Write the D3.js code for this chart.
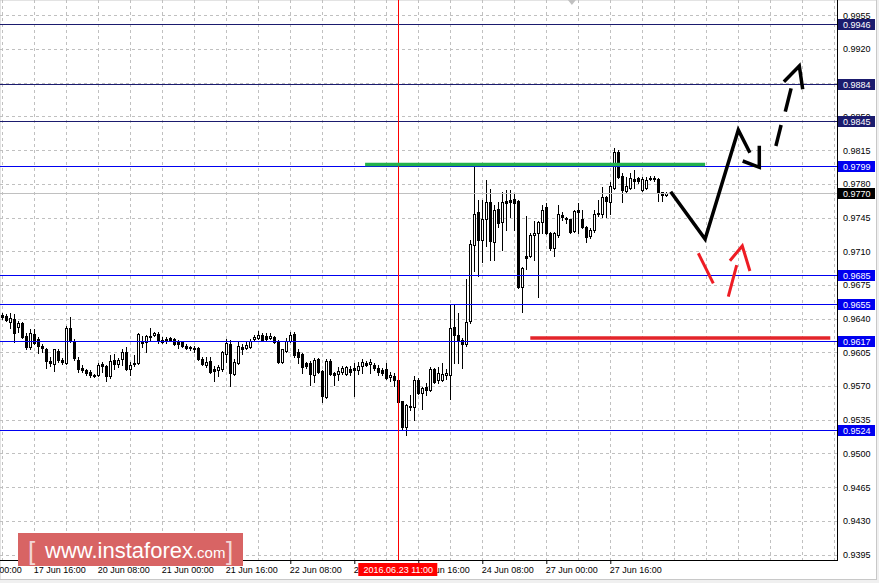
<!DOCTYPE html>
<meta charset="utf-8">
<style>
body { margin: 0; background: #f0f0f0; }
svg text { font-family: "Liberation Sans", Arial, sans-serif; }
</style>
<body>
<script src="https://d3js.org/d3.v7.min.js"></script>
<script>
var width = 879, height = 583;
var plotRight = 837, plotBottom = 560;

// H1 bars, bar 0 = 17 Jun 08:00 (weekend skipped)
var opens = [
0.9644,0.9643,0.9637,0.9640,0.9631,0.9635,0.9622,0.9611,0.9624,0.9619,
0.9612,0.9609,0.9596,0.9593,0.9606,0.9597,0.9594,0.9630,0.9617,0.9597,
0.9589,0.9587,0.9585,0.9582,0.9581,0.9593,0.9591,0.9580,0.9597,0.9593,
0.9598,0.9605,0.9588,0.9594,0.9594,0.9617,0.9616,0.9622,0.9623,0.9624,
0.9618,0.9619,0.9620,0.9619,0.9617,0.9616,0.9612,0.9611,0.9610,0.9610,
0.9598,0.9592,0.9596,0.9588,0.9587,0.9588,0.9603,0.9614,0.9583,0.9594,
0.9611,0.9610,0.9611,0.9619,0.9620,0.9623,0.9622,0.9620,0.9621,0.9616,
0.9595,0.9606,0.9617,0.9624,0.9605,0.9603,0.9594,0.9594,0.9582,0.9598,
0.9586,0.9559,0.9596,0.9584,0.9583,0.9585,0.9583,0.9588,0.9589,0.9587,
0.9591,0.9594,0.9593,0.9592,0.9589,0.9587,0.9588,0.9579,0.9580,0.9576,
0.9554,0.9528,0.9549,0.9548,0.9576,0.9563,0.9569,0.9566,0.9588,0.9576,
0.9576,0.9581,0.9582,0.9631,0.9623,0.9618,0.9614,0.9638,0.9716,0.9751,
0.9722,0.9744,0.9761,0.9720,0.9754,0.9740,0.9762,0.9763,0.9764,0.9762,
0.9673,0.9705,0.9705,0.9727,0.9729,0.9740,0.9756,0.9729,0.9713,0.9727,
0.9748,0.9745,0.9743,0.9731,0.9753,0.9743,0.9735,0.9726,0.9732,0.9749,
0.9749,0.9766,0.9761,0.9776,0.9813,0.9788,0.9773,0.9776,0.9785,0.9786,
0.9774,0.9776,0.9786,0.9786,0.9785,0.9771,0.9768];
var highs = [
0.9646,0.9645,0.9646,0.9645,0.9638,0.9637,0.9625,0.9629,0.9629,0.9621,
0.9614,0.9610,0.9600,0.9609,0.9608,0.9599,0.9632,0.9642,0.9619,0.9600,
0.9592,0.9588,0.9587,0.9583,0.9594,0.9595,0.9592,0.9602,0.9603,0.9599,
0.9608,0.9611,0.9595,0.9602,0.9625,0.9622,0.9623,0.9630,0.9626,0.9626,
0.9621,0.9621,0.9621,0.9620,0.9618,0.9617,0.9614,0.9612,0.9612,0.9611,
0.9600,0.9600,0.9600,0.9591,0.9592,0.9606,0.9619,0.9618,0.9598,0.9616,
0.9614,0.9616,0.9619,0.9623,0.9627,0.9625,0.9625,0.9625,0.9622,0.9618,
0.9609,0.9620,0.9626,0.9626,0.9608,0.9604,0.9595,0.9596,0.9599,0.9599,
0.9587,0.9598,0.9598,0.9585,0.9590,0.9591,0.9591,0.9591,0.9594,0.9595,
0.9598,0.9596,0.9598,0.9594,0.9592,0.9589,0.9594,0.9585,0.9584,0.9577,
0.9555,0.9551,0.9561,0.9580,0.9578,0.9569,0.9573,0.9590,0.9589,0.9590,
0.9594,0.9588,0.9654,0.9654,0.9646,0.9620,0.9681,0.9722,0.9802,0.9763,
0.9763,0.9784,0.9775,0.9758,0.9761,0.9772,0.9774,0.9774,0.9770,0.9763,
0.9694,0.9747,0.9729,0.9741,0.9741,0.9758,0.9760,0.9730,0.9730,0.9758,
0.9751,0.9746,0.9744,0.9753,0.9760,0.9753,0.9736,0.9734,0.9753,0.9763,
0.9777,0.9767,0.9782,0.9817,0.9815,0.9791,0.9787,0.9791,0.9794,0.9787,
0.9787,0.9787,0.9788,0.9788,0.9786,0.9772,0.9771];
var lows = [
0.9640,0.9638,0.9630,0.9616,0.9626,0.9620,0.9608,0.9608,0.9614,0.9604,
0.9605,0.9589,0.9591,0.9586,0.9595,0.9593,0.9593,0.9616,0.9597,0.9585,
0.9585,0.9582,0.9579,0.9579,0.9580,0.9585,0.9575,0.9578,0.9588,0.9590,
0.9592,0.9587,0.9582,0.9591,0.9593,0.9611,0.9605,0.9618,0.9622,0.9615,
0.9615,0.9615,0.9617,0.9613,0.9610,0.9611,0.9608,0.9607,0.9605,0.9597,
0.9592,0.9590,0.9584,0.9575,0.9580,0.9586,0.9595,0.9570,0.9582,0.9593,
0.9603,0.9609,0.9610,0.9617,0.9619,0.9617,0.9617,0.9619,0.9615,0.9594,
0.9594,0.9605,0.9616,0.9600,0.9594,0.9584,0.9589,0.9571,0.9574,0.9584,
0.9553,0.9558,0.9582,0.9571,0.9576,0.9583,0.9582,0.9582,0.9560,0.9583,
0.9584,0.9591,0.9584,0.9587,0.9582,0.9582,0.9577,0.9575,0.9570,0.9552,
0.9524,0.9519,0.9545,0.9535,0.9562,0.9546,0.9561,0.9565,0.9573,0.9573,
0.9575,0.9577,0.9557,0.9594,0.9594,0.9589,0.9612,0.9635,0.9690,0.9684,
0.9699,0.9715,0.9701,0.9701,0.9735,0.9711,0.9732,0.9746,0.9732,0.9672,
0.9647,0.9692,0.9704,0.9701,0.9662,0.9729,0.9728,0.9711,0.9705,0.9725,
0.9742,0.9739,0.9729,0.9730,0.9729,0.9734,0.9720,0.9724,0.9730,0.9747,
0.9746,0.9746,0.9749,0.9775,0.9786,0.9761,0.9771,0.9775,0.9776,0.9781,
0.9773,0.9775,0.9784,0.9783,0.9762,0.9762,0.9767];
var closes = [
0.9642,0.9639,0.9641,0.9625,0.9636,0.9621,0.9611,0.9625,0.9615,0.9612,
0.9610,0.9596,0.9594,0.9608,0.9597,0.9595,0.9630,0.9617,0.9599,0.9588,
0.9587,0.9584,0.9582,0.9580,0.9592,0.9591,0.9580,0.9596,0.9593,0.9597,
0.9605,0.9588,0.9592,0.9593,0.9624,0.9615,0.9622,0.9621,0.9625,0.9617,
0.9616,0.9617,0.9618,0.9614,0.9614,0.9612,0.9610,0.9610,0.9609,0.9598,
0.9593,0.9595,0.9585,0.9586,0.9590,0.9605,0.9615,0.9584,0.9595,0.9612,
0.9609,0.9613,0.9617,0.9621,0.9623,0.9618,0.9619,0.9622,0.9616,0.9595,
0.9608,0.9617,0.9623,0.9602,0.9600,0.9590,0.9591,0.9583,0.9597,0.9585,
0.9560,0.9596,0.9583,0.9582,0.9586,0.9589,0.9590,0.9585,0.9587,0.9591,
0.9595,0.9592,0.9595,0.9589,0.9585,0.9584,0.9578,0.9581,0.9576,0.9553,
0.9527,0.9550,0.9548,0.9576,0.9563,0.9568,0.9566,0.9588,0.9574,0.9584,
0.9583,0.9584,0.9630,0.9623,0.9617,0.9614,0.9637,0.9718,0.9749,0.9722,
0.9743,0.9761,0.9721,0.9753,0.9739,0.9761,0.9760,0.9761,0.9760,0.9673,
0.9693,0.9703,0.9727,0.9729,0.9740,0.9753,0.9729,0.9713,0.9729,0.9749,
0.9746,0.9743,0.9730,0.9752,0.9751,0.9735,0.9725,0.9732,0.9749,0.9750,
0.9766,0.9762,0.9778,0.9813,0.9787,0.9774,0.9778,0.9786,0.9783,0.9783,
0.9785,0.9784,0.9785,0.9785,0.9771,0.9768,0.9770];

var priceTicks = [0.9955,0.9920,0.9885,0.9850,0.9815,0.9780,0.9745,0.9710,0.9675,
                  0.9640,0.9605,0.9570,0.9535,0.9500,0.9465,0.9430,0.9395];
var timeTickBars = [-8, 8, 24, 40, 56, 72, 88, 104, 120, 136, 152];
var timeTickLabels = ["17 Jun 00:00","17 Jun 16:00","20 Jun 08:00","21 Jun 00:00",
  "21 Jun 16:00","22 Jun 08:00","23 Jun 00:00","23 Jun 16:00","24 Jun 08:00",
  "27 Jun 00:00","27 Jun 16:00"];

var levels = [0.9946, 0.9884, 0.9845, 0.9799, 0.9685, 0.9655, 0.9617, 0.9524];
var lastPrice = 0.9770;
var markerBar = 99, markerLabel = "2016.06.23 11:00";
var greenLevel = [90.7, 175.7, 0.9800];   // from bar, to bar, price
var redLevel = [132, 207, 0.9620];

// hand drawn forecast strokes, [bar, price]
var blackPath = [[167.1,0.97718],[175.7,0.97227],[184.0,0.98359],[186.9,0.98123]];
var blackHead = [[185.1,0.98037],[189.25,0.97972],[189.25,0.98196]];
var dashUp = [
  [[193.4,0.98193],[194.7,0.98411]],
  [[195.75,0.98549],[197.2,0.98792]],
  [[195.4,0.98861],[199.25,0.99024],[200.1,0.98782]]];
var redArrow = [
  [[174,0.97079],[177.75,0.96767]],
  [[181.5,0.96628],[183.6,0.96957]],
  [[181.9,0.97002],[185,0.97155],[186.9,0.96895]]];

var navy = "#1b1b6e", blue = "#0000f0";

var x = d3.scaleLinear().domain([0, 100]).range([2.3, 402.3]);
var y = d3.scaleLinear().domain([0.9955, 0.9395]).range([15.3, 554.6]);

var svg = d3.select("body").append("svg")
  .attr("width", width).attr("height", height)
  .style("display", "block");

svg.append("rect").attr("width", width).attr("height", height).attr("fill", "#f0f0f0");
svg.append("rect").attr("x", 0).attr("y", 0).attr("width", 876.5).attr("height", 579.5)
  .attr("fill", "#fff").attr("stroke", "#c8c8c8");

svg.append("clipPath").attr("id", "plot")
  .append("rect").attr("width", plotRight).attr("height", plotBottom);

var plot = svg.append("g").attr("clip-path", "url(#plot)");

// grid
plot.append("g").selectAll("line").data(priceTicks).enter().append("line")
  .attr("x1", 0).attr("x2", plotRight)
  .attr("y1", function(d) { return Math.round(y(d)) + 0.5; })
  .attr("y2", function(d) { return Math.round(y(d)) + 0.5; })
  .attr("stroke", "#c0c0c0").attr("stroke-dasharray", "3,3");
plot.append("g").selectAll("line").data(d3.range(0, 210, 8)).enter().append("line")
  .attr("x1", function(d) { return Math.round(x(d)) + 0.5; })
  .attr("x2", function(d) { return Math.round(x(d)) + 0.5; })
  .attr("y1", 0).attr("y2", plotBottom)
  .attr("stroke", "#c0c0c0").attr("stroke-dasharray", "3,3");

// candles
var bars = opens.map(function(o, i) {
  return {i: i, o: o, h: highs[i], l: lows[i], c: closes[i]};
});
var candle = plot.append("g").selectAll("g").data(bars).enter().append("g");
candle.append("line")
  .attr("x1", function(d) { return Math.round(x(d.i)) + 0.5; })
  .attr("x2", function(d) { return Math.round(x(d.i)) + 0.5; })
  .attr("y1", function(d) { return Math.round(y(d.h)); })
  .attr("y2", function(d) { return Math.round(y(d.l)) + 1; })
  .attr("stroke", "#000");
candle.append("rect")
  .each(function(d) {
    var px = Math.round(x(d.i));
    var top = Math.round(y(Math.max(d.o, d.c)));
    var bot = Math.round(y(Math.min(d.o, d.c)));
    var r = d3.select(this);
    if (d.c > d.o) {
      r.attr("x", px - 0.5).attr("y", top + 0.5).attr("width", 2)
       .attr("height", Math.max(0, bot - top))
       .attr("fill", "#fff").attr("stroke", "#000");
    } else {
      r.attr("x", px - 1).attr("y", top).attr("width", 3)
       .attr("height", Math.max(1, bot - top + 1)).attr("fill", "#000");
    }
  });

// horizontal levels
plot.append("g").selectAll("line").data(levels).enter().append("line")
  .attr("x1", 0).attr("x2", plotRight)
  .attr("y1", function(d) { return Math.round(y(d)) + 0.5; })
  .attr("y2", function(d) { return Math.round(y(d)) + 0.5; })
  .attr("stroke", function(d) { return d > 0.98 ? navy : blue; });
plot.append("line")
  .attr("x1", 0).attr("x2", plotRight)
  .attr("y1", Math.round(y(lastPrice)) + 0.5).attr("y2", Math.round(y(lastPrice)) + 0.5)
  .attr("stroke", "#c0c0c0");

// time marker
plot.append("line")
  .attr("x1", Math.round(x(markerBar)) + 0.5).attr("x2", Math.round(x(markerBar)) + 0.5)
  .attr("y1", 0).attr("y2", plotBottom).attr("stroke", "#ff0000");

// support / resistance segments
plot.append("line")
  .attr("x1", x(greenLevel[0])).attr("x2", x(greenLevel[1]))
  .attr("y1", y(greenLevel[2])).attr("y2", y(greenLevel[2]))
  .attr("stroke", "#22b14c").attr("stroke-width", 3.5);
plot.append("line")
  .attr("x1", x(redLevel[0])).attr("x2", x(redLevel[1]))
  .attr("y1", y(redLevel[2])).attr("y2", y(redLevel[2]))
  .attr("stroke", "#e3242b").attr("stroke-width", 3.5);

// forecast arrows
var line = d3.line().x(function(d) { return x(d[0]); }).y(function(d) { return y(d[1]); });
plot.append("path").attr("d", line(blackPath))
  .attr("fill", "none").attr("stroke", "#000").attr("stroke-width", 3.5);
plot.append("path").attr("d", line(blackHead))
  .attr("fill", "none").attr("stroke", "#000").attr("stroke-width", 3.5);
plot.append("g").selectAll("path").data(dashUp).enter().append("path")
  .attr("d", line).attr("fill", "none").attr("stroke", "#000").attr("stroke-width", 3.5);
plot.append("g").selectAll("path").data(redArrow).enter().append("path")
  .attr("d", line).attr("fill", "none").attr("stroke", "#ee1c24").attr("stroke-width", 3);

// small grey object marker at the top
plot.append("path")
  .attr("transform", "translate(" + x(142.4) + ",0)")
  .attr("d", "M-4,0L4,0L0,5Z").attr("fill", "#c0c0c0");

// axes
svg.append("line").attr("x1", plotRight + 0.5).attr("x2", plotRight + 0.5)
  .attr("y1", 0).attr("y2", plotBottom + 1).attr("stroke", "#000");
svg.append("line").attr("x1", 0).attr("x2", plotRight + 1)
  .attr("y1", plotBottom + 0.5).attr("y2", plotBottom + 0.5).attr("stroke", "#000");

var yAxis = svg.append("g").attr("transform", "translate(" + plotRight + ",0)")
  .call(d3.axisRight(y).tickValues(priceTicks).tickFormat(d3.format(".4f"))
        .tickSize(0).tickPadding(6));
yAxis.select(".domain").remove();
yAxis.selectAll("text").attr("font-size", 9).attr("fill", "#000")
  .style("font-family", "Liberation Sans, Arial, sans-serif");

var xAxis = svg.append("g").attr("transform", "translate(0," + plotBottom + ")")
  .call(d3.axisBottom(x).tickValues(timeTickBars)
        .tickFormat(function(d, i) { return timeTickLabels[i]; }).tickSize(4));
xAxis.select(".domain").remove();
xAxis.selectAll("text").attr("font-size", 9).attr("fill", "#000")
  .attr("text-anchor", "start").attr("dx", -1)
  .style("font-family", "Liberation Sans, Arial, sans-serif");

// price labels on the axis
var tags = svg.append("g").selectAll("g")
  .data(levels.map(function(d) { return {p: d, c: d > 0.98 ? navy : blue}; })
        .concat([{p: lastPrice, c: "#000"}]))
  .enter().append("g")
  .attr("transform", function(d) { return "translate(838," + Math.round(y(d.p)) + ")"; });
tags.append("rect").attr("x", 0).attr("y", -5).attr("width", 37).attr("height", 11)
  .attr("fill", function(d) { return d.c; });
tags.append("text").attr("x", 5).attr("y", 3.5).attr("font-size", 9).attr("fill", "#fff")
  .text(function(d) { return d3.format(".4f")(d.p); });

// time label of the marker
var tl = svg.append("g").attr("transform", "translate(" + x(markerBar) + "," + (plotBottom + 3) + ")");
tl.append("rect").attr("x", -40).attr("y", 0).attr("width", 79).attr("height", 13).attr("fill", "#ff0000");
tl.append("text").attr("x", 0).attr("y", 10).attr("text-anchor", "middle")
  .attr("font-size", 9).attr("fill", "#fff").text(markerLabel);

// watermark
var wm = svg.append("g");
wm.append("rect").attr("x", 18).attr("y", 533).attr("width", 225).attr("height", 33).attr("fill", "#d86464");
wm.append("text").attr("x", 28).attr("y", 560).attr("font-size", 26).attr("fill", "#f3d6d6").text("[");
var wt = wm.append("text").attr("x", 45).attr("y", 558).attr("fill", "#fff");
wt.append("tspan").attr("font-size", 22).text("www.instaforex");
wt.append("tspan").attr("font-size", 15).text(".com");
wm.append("text").attr("x", 226).attr("y", 560).attr("font-size", 26).attr("fill", "#f3d6d6").text("]");
</script>
</body>
